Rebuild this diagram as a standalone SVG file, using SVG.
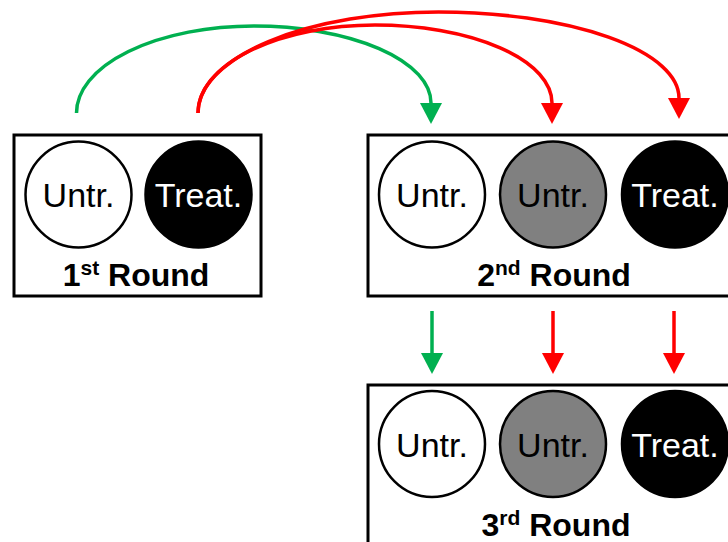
<svg xmlns="http://www.w3.org/2000/svg" width="728" height="542" viewBox="0 0 728 542">
<style>
.box{fill:#fff;stroke:#000;stroke-width:3}
.c{stroke:#000;stroke-width:2.5}
.w{fill:#fff}.g{fill:#808080}.b{fill:#000}
.lbl{font-family:"Liberation Sans",Arial,sans-serif;font-size:34px;text-anchor:middle}
.title{font-family:"Liberation Sans",Arial,sans-serif;font-size:32px;font-weight:bold;text-anchor:middle}
.sup{font-size:21px}
.green{fill:none;stroke:#00B050;stroke-width:3.5}
.red{fill:none;stroke:#FF0000;stroke-width:3.5}
</style>
<defs>
<marker id="ag" markerUnits="userSpaceOnUse" markerWidth="21" markerHeight="22" refX="0" refY="11" orient="auto" overflow="visible"><path d="M0,0 L21,11 L0,22 Z" fill="#00B050"/></marker>
<marker id="ar" markerUnits="userSpaceOnUse" markerWidth="21" markerHeight="22" refX="0" refY="11" orient="auto" overflow="visible"><path d="M0,0 L21,11 L0,22 Z" fill="#FF0000"/></marker>
</defs>
<g id="round1">
<rect class="box" x="14" y="135" width="247" height="161"/>
<circle class="c w" cx="78.5" cy="194.5" r="53"/>
<text class="lbl" x="78.5" y="207" fill="#000">Untr.</text>
<circle class="c b" cx="198.5" cy="194.5" r="53"/>
<text class="lbl" x="198.5" y="207" fill="#fff">Treat.</text>
<text class="title" x="136" y="286">1<tspan class="sup" dy="-11">st</tspan><tspan dy="11"> Round</tspan></text>
</g>
<g id="round2">
<rect class="box" x="368" y="135" width="380" height="161"/>
<circle class="c w" cx="432" cy="194.5" r="53"/>
<text class="lbl" x="432" y="207" fill="#000">Untr.</text>
<circle class="c g" cx="553" cy="194.5" r="53"/>
<text class="lbl" x="553" y="207" fill="#000">Untr.</text>
<circle class="c b" cx="675" cy="194.5" r="53"/>
<text class="lbl" x="675" y="207" fill="#fff">Treat.</text>
<text class="title" x="554" y="286">2<tspan class="sup" dy="-11">nd</tspan><tspan dy="11"> Round</tspan></text>
</g>
<g id="round3">
<rect class="box" x="368" y="385" width="380" height="180"/>
<circle class="c w" cx="432" cy="444" r="53"/>
<text class="lbl" x="432" y="456.5" fill="#000">Untr.</text>
<circle class="c g" cx="553" cy="444" r="53"/>
<text class="lbl" x="553" y="456.5" fill="#000">Untr.</text>
<circle class="c b" cx="675" cy="444" r="53"/>
<text class="lbl" x="675" y="456.5" fill="#fff">Treat.</text>
<text class="title" x="556" y="536">3<tspan class="sup" dy="-11">rd</tspan><tspan dy="11"> Round</tspan></text>
</g>
<g id="connectors">
<path class="green" d="M76.5,113 A177.25,87 0 0 1 253.75,26 A177.25,77 0 0 1 431,103" marker-end="url(#ag)"/>
<path class="red" d="M198,113 A177,88 0 0 1 375,25 A177,78 0 0 1 552,103" marker-end="url(#ar)"/>
<path class="red" d="M198,113 A240.5,101 0 0 1 438.5,12 A240.5,86 0 0 1 679,98" marker-end="url(#ar)"/>
<path class="green" d="M432,311 L432,353" marker-end="url(#ag)"/>
<path class="red" d="M553,311 L553,353" marker-end="url(#ar)"/>
<path class="red" d="M674,311 L674,353" marker-end="url(#ar)"/>
</g>
</svg>
